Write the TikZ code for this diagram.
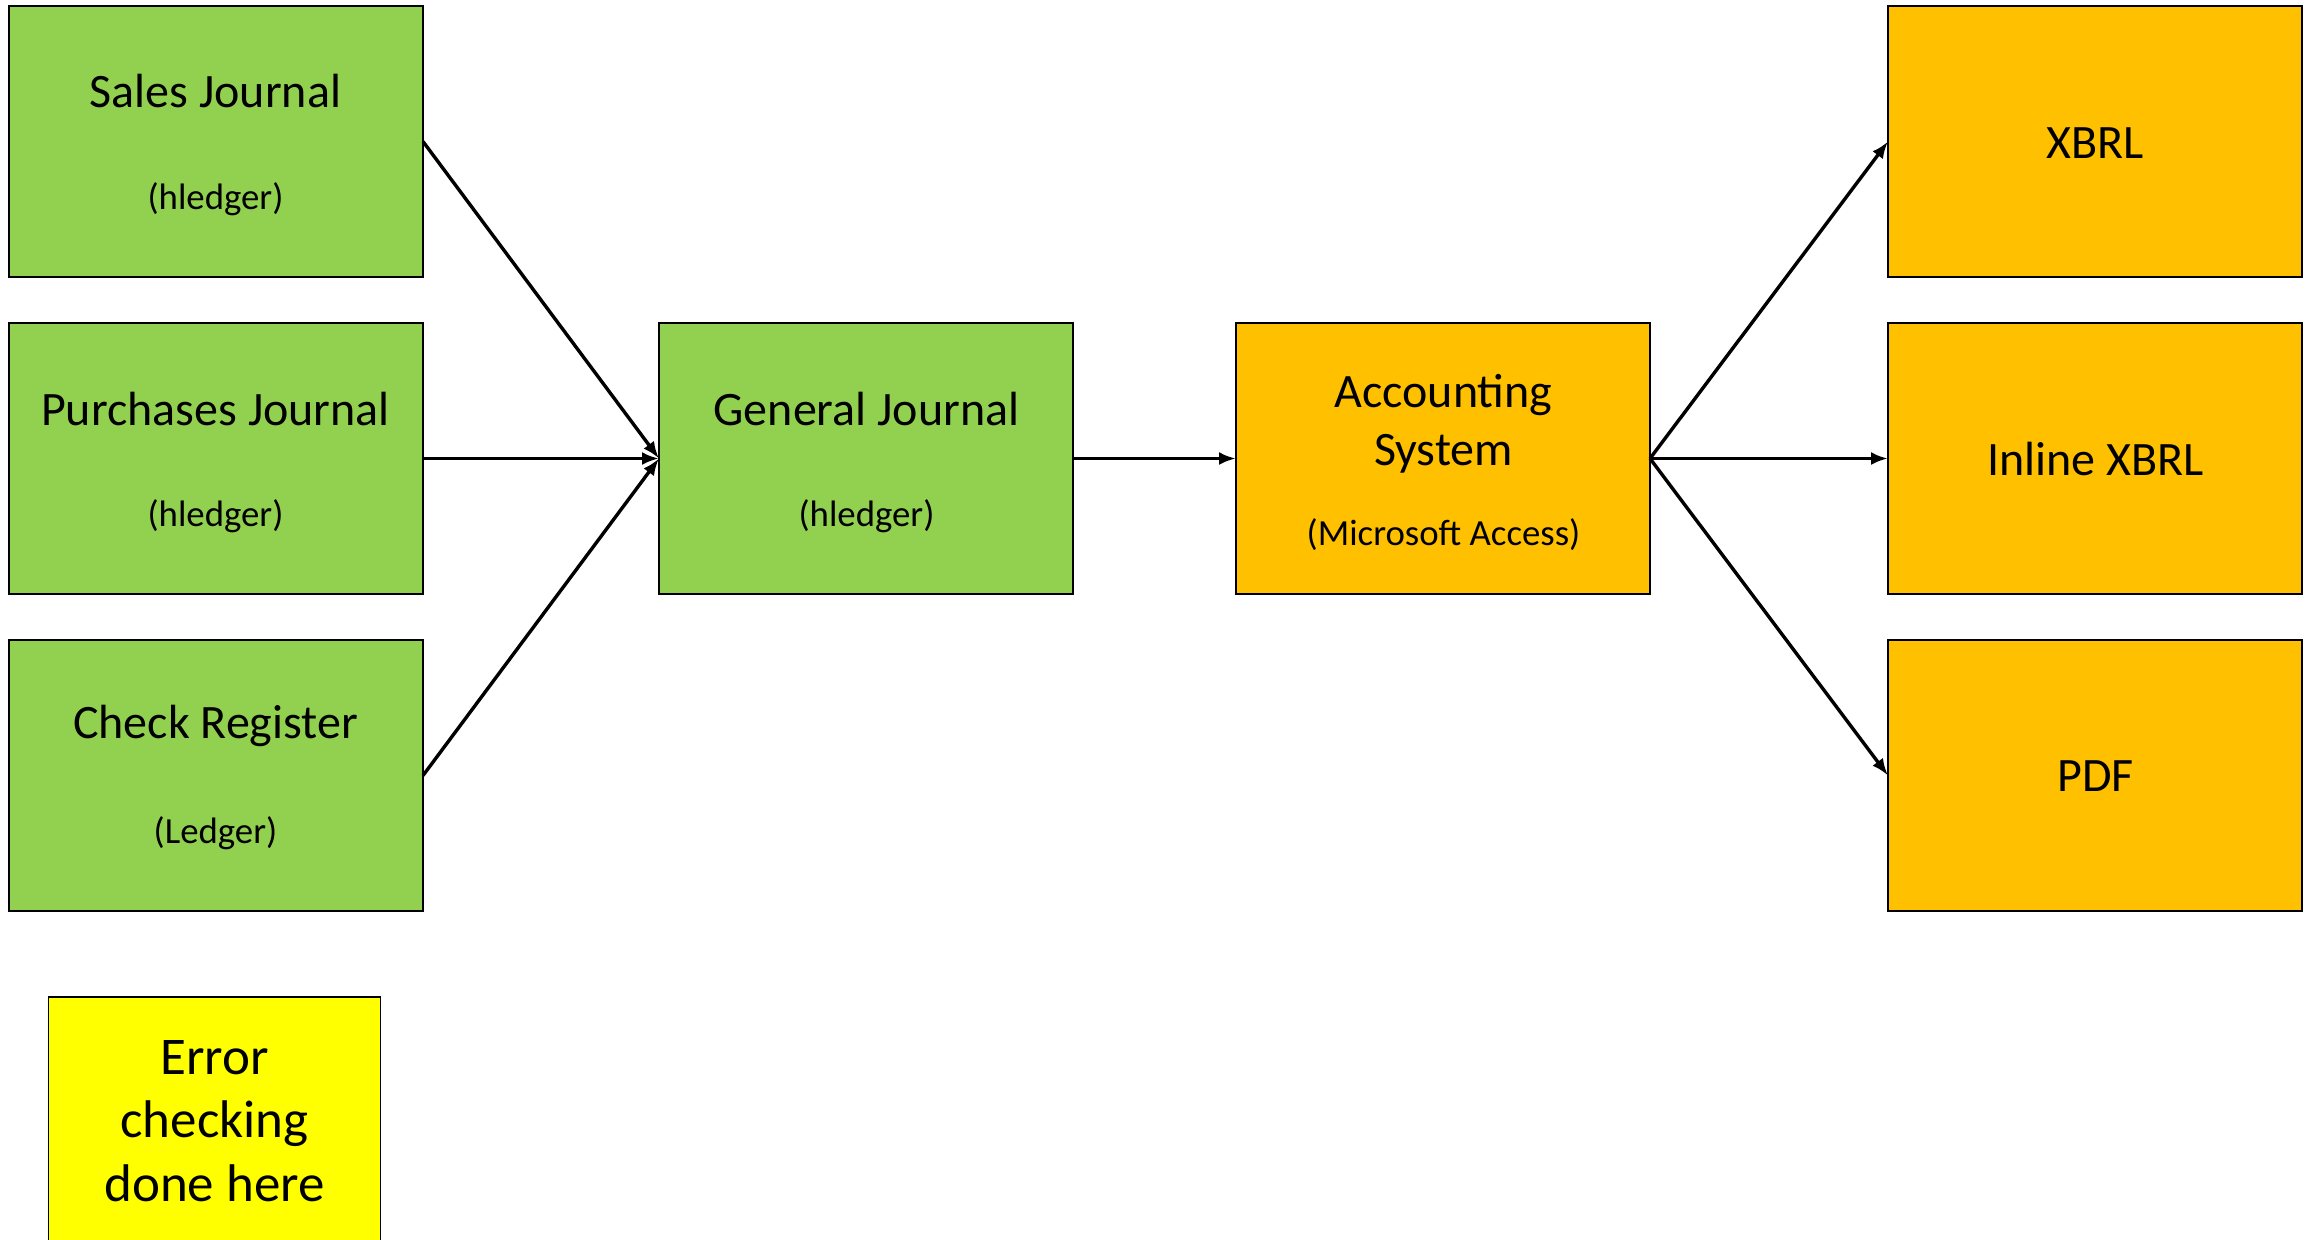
\documentclass[tikz,border=0pt]{standalone}
\usepackage{fontspec}
\setmainfont{Carlito}
\usetikzlibrary{arrows.meta}
\definecolor{boxgreen}{HTML}{92D050}
\definecolor{boxorange}{HTML}{FFC000}
\definecolor{boxyellow}{HTML}{FFFF00}
\begin{document}
\begin{tikzpicture}[x=0.5pt,y=-0.5pt,
  box/.style={draw=black, line width=0.75pt, minimum width=207pt, minimum height=135.5pt, inner sep=0pt, outer sep=0pt, anchor=north west},
  gbox/.style={box, fill=boxgreen},
  obox/.style={box, fill=boxorange},
  title/.style={font=\fontsize{24}{28.75}\selectfont, inner sep=0pt, align=center},
  sub/.style={font=\fontsize{18.4}{22}\selectfont, inner sep=0pt},
  big/.style={font=\fontsize{26.5}{31.7}\selectfont, inner sep=0pt, align=center},
  conn/.style={-{Latex[length=8.5pt,width=6.5pt]}, line width=1.7pt}
]
\useasboundingbox (0,0) rectangle (2313,1239);
\clip (0,0) rectangle (2313,1239);
% left column
\node[gbox] (sales) at (9,6) {};
\node[gbox] (purch) at (9,323) {};
\node[gbox] (check) at (9,640) {};
\node[title] (salest) at (215.5,91.5) {Sales Journal};
\node[sub] (saless) at (215.5,199) {(hledger)};
\node[title] (purcht) at (215.5,408.5) {Purchases Journal};
\node[sub] (purchs) at (215.5,516) {(hledger)};
\node[title] (checkt) at (215.5,725.5) {Check Register};
\node[sub] (checks) at (215.5,833) {(Ledger)};
% general journal
\node[gbox] (gen) at (659,323) {};
\node[title] (gent) at (866.5,408.5) {General Journal};
\node[sub] (gens) at (866.5,516) {(hledger)};
% accounting system
\node[obox] (acc) at (1236,323) {};
\node[title] (acct) at (1443.5,424) {Accounting\\System};
\node[sub] (accs) at (1443.5,535) {(Microsoft Access)};
% outputs
\node[obox] (xbrl) at (1888,6) {};
\node[obox] (ixbrl) at (1888,323) {};
\node[obox] (pdf) at (1888,640) {};
\node[title] (xbrlt) at (2095.5,143) {XBRL};
\node[title] (ixbrlt) at (2095.5,459) {Inline XBRL};
\node[title] (pdft) at (2095.5,776) {PDF};
% error checking
\node[draw=black, line width=0.75pt, fill=boxyellow, anchor=north, minimum width=166pt, minimum height=135pt, inner sep=0pt] (err) at (214.5,996) {};
\node[big] (errt) at (214.5,1121) {Error\\checking\\done here};
% connectors
\draw[conn] (sales.east) -- (gen.west);
\draw[conn] (purch.east) -- (gen.west);
\draw[conn] (check.east) -- (gen.west);
\draw[conn] (gen.east) -- (acc.west);
\draw[conn] (acc.east) -- (xbrl.west);
\draw[conn] (acc.east) -- (ixbrl.west);
\draw[conn] (acc.east) -- (pdf.west);
\end{tikzpicture}
\end{document}
